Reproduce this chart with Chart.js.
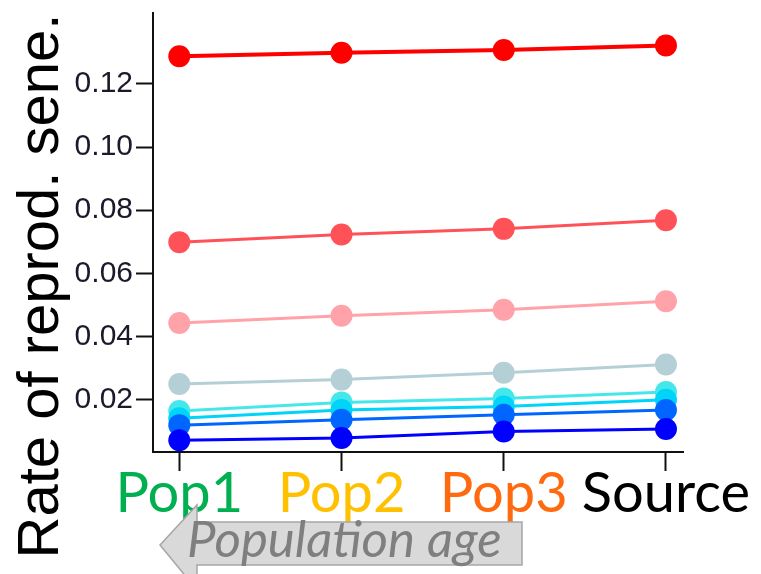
<!DOCTYPE html>
<html>
<head>
<meta charset="utf-8">
<script src="https://cdn.jsdelivr.net/npm/chart.js@4"></script>
<style>
    body { margin: 0; background: #fff; }
    #wrap { width: 761px; height: 574px; }
</style>
</head>
<body>
<div id="wrap"><canvas id="rate-chart" width="761" height="574"></canvas></div>
<script>
// categories + colours of the x labels
const categories = ['Pop1', 'Pop2', 'Pop3', 'Source'];
const catColors = ['#00B050', '#FFC000', '#FF6A10', '#000000'];
const yTicks = [0.02, 0.04, 0.06, 0.08, 0.10, 0.12];

// one line per series, bottom to top
const darkBlue  = [0.0072, 0.0079, 0.0100, 0.0108];
const blueMid   = [0.0120, 0.0137, 0.0153, 0.0168];
const cyan      = [0.0142, 0.0168, 0.0179, 0.0200];
const cyanLight = [0.0165, 0.0192, 0.0204, 0.0225];
const grayBlue  = [0.0250, 0.0264, 0.0286, 0.0312];
const pink      = [0.0443, 0.0466, 0.0485, 0.0512];
const redMid    = [0.0699, 0.0723, 0.0741, 0.0768];
const red       = [0.1287, 0.1298, 0.1307, 0.1321];

const yTitle = 'Rate of reprod. sene.';
const arrowText = 'Population age';

var rate_chart = (function () {

    const   SERIES = [darkBlue, blueMid, cyan, cyanLight, grayBlue, pink, redMid, red],
            COLORS = ['#0000FF', '#0066FF', '#00D4F8', '#44E8EA', '#B4D0D6', '#FFA2AA', '#FF5258', '#FF0000'];

    makeDatasets = () => {
        return SERIES.map((vals, i) => ({
            data: vals.map((v, j) => ({ x: j, y: v })),
            borderColor: COLORS[i],
            backgroundColor: COLORS[i],
            borderWidth: i == SERIES.length - 1 ? 4 : 3,
            pointRadius: 11,
            pointBorderWidth: 0,
            pointBackgroundColor: COLORS[i]
        }));
    }

    // y title and the grey "population age" arrow
    const extras = {
        id: 'extras',
        afterDraw: (chart) => {
            const ctx = chart.ctx;
            ctx.save();

            ctx.translate(58, 286);
            ctx.rotate(-Math.PI / 2);
            ctx.font = '58px "Liberation Sans", Arial, sans-serif';
            ctx.fillStyle = '#000';
            ctx.textAlign = 'center';
            ctx.textBaseline = 'alphabetic';
            ctx.fillText(yTitle, 0, 0);
            ctx.setTransform(1, 0, 0, 1, 0, 0);

            ctx.beginPath();
            ctx.moveTo(160, 545);
            ctx.lineTo(197, 505);
            ctx.lineTo(197, 522);
            ctx.lineTo(522, 522);
            ctx.lineTo(522, 565);
            ctx.lineTo(197, 565);
            ctx.lineTo(197, 590);
            ctx.closePath();
            ctx.fillStyle = '#D9D9D9';
            ctx.fill();
            ctx.lineWidth = 1.5;
            ctx.strokeStyle = '#A6A6A6';
            ctx.stroke();

            ctx.font = 'italic 51px Lato, sans-serif';
            ctx.fillStyle = '#7F7F7F';
            ctx.textAlign = 'left';
            ctx.fillText(arrowText, 187, 557);
            ctx.restore();
        }
    };

    noPad = (s) => { s.paddingTop = 0; s.paddingBottom = 0; s.paddingLeft = 0; s.paddingRight = 0; }

    draw = () => {
        new Chart(document.getElementById('rate-chart'), {
            type: 'line',
            data: { datasets: makeDatasets() },
            plugins: [extras],
            options: {
                responsive: false,
                devicePixelRatio: 1,
                animation: false,
                layout: { padding: { left: 0, top: 13, right: 78, bottom: 0 } },
                plugins: { legend: { display: false }, tooltip: { enabled: false } },
                scales: {
                    x: {
                        type: 'linear',
                        min: -0.162,
                        max: 3.105,
                        afterBuildTicks: (s) => { s.ticks = categories.map((c, i) => ({ value: i })); },
                        afterFit: (s) => { s.height = 122; noPad(s); },
                        grid: { drawOnChartArea: false, drawTicks: true, tickLength: 19, tickWidth: 2, tickColor: '#111' },
                        border: { display: true, color: '#111', width: 2 },
                        ticks: {
                            autoSkip: false,
                            maxRotation: 0,
                            padding: -11,
                            font: { family: 'Lato', size: 56 },
                            color: (c) => catColors[c.index],
                            callback: (v) => categories[v]
                        }
                    },
                    y: {
                        min: 0.0035,
                        max: 0.1424,
                        afterBuildTicks: (s) => { s.ticks = yTicks.map(v => ({ value: v })); },
                        afterFit: (s) => { s.width = 153; noPad(s); },
                        grid: { drawOnChartArea: false, drawTicks: true, tickLength: 17, tickWidth: 2, tickColor: '#111' },
                        border: { display: true, color: '#111', width: 2 },
                        ticks: {
                            padding: 3,
                            font: { family: '"Liberation Sans"', size: 30 },
                            color: '#1a1a2a',
                            callback: (v) => v.toFixed(2)
                        }
                    }
                }
            }
        });
    }

    return { draw }
}());

rate_chart.draw();
</script>
</body>
</html>
